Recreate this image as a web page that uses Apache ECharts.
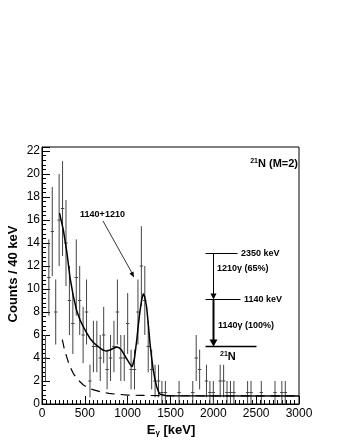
<!DOCTYPE html>
<html>
<head>
<meta charset="utf-8">
<script src="https://cdn.jsdelivr.net/npm/echarts@6/dist/echarts.min.js"></script>
<style>
  html, body { margin: 0; padding: 0; background: #fff; }
  #main { width: 340px; height: 440px; }
</style>
</head>
<body>
<div id="main"></div>
<script>
// histogram bins (40 keV), only the non-empty ones
var binE = [40, 80, 120, 160, 200, 240, 280, 320, 360, 400, 440, 480, 520, 560, 600, 640, 680, 720, 760, 800,
  840, 880, 920, 960, 1000, 1040, 1080, 1120, 1160, 1200, 1240, 1280, 1320, 1360, 1400, 1440, 1600, 1760,
  1800, 1840, 1920, 1960, 2000, 2080, 2120, 2160, 2200, 2240, 2400, 2440, 2560, 2720, 2800, 2840];
var binN = [4, 11, 15, 8, 16, 17, 14, 9, 7, 11, 9, 6, 8, 2, 5, 5, 4, 6, 3, 4,
  5, 8, 4, 4, 7, 3, 3, 8, 12, 9, 5, 3, 2, 2, 1, 1, 1, 1,
  4, 3, 2, 1, 1, 2, 2, 1, 1, 1, 1, 1, 1, 1, 1, 1];

// fit (solid) and background (dashed)
var fitE = [205, 250, 290, 327, 365, 405, 445, 483, 520, 560, 600, 638, 680, 716, 755, 794, 835, 872, 900, 930,
  960, 988, 1020, 1054, 1080, 1105, 1125, 1144, 1165, 1183, 1200, 1222, 1240, 1261, 1280, 1300, 1320, 1339,
  1358, 1377, 1400, 1450, 3000];
var fitV = [16.6, 15.1, 13.2, 11.0, 9.4, 8.1, 7.3, 6.7, 6.2, 5.7, 5.35, 5.1, 4.85, 4.67, 4.6, 4.7, 4.85, 4.96, 4.9, 4.67,
  4.3, 3.95, 3.55, 3.23, 4.0, 5.5, 6.9, 8.1, 9.1, 9.6, 9.3, 8.4, 7.0, 5.25, 4.0, 2.9, 2.1, 1.5,
  1.1, 0.85, 0.75, 0.72, 0.7];
var bgE = [237, 260, 288, 320, 366, 420, 483, 560, 677, 780, 872, 1000, 1140, 1500, 3000];
var bgV = [5.6, 4.8, 4.1, 3.35, 2.65, 2.1, 1.65, 1.33, 1.07, 0.93, 0.85, 0.78, 0.75, 0.72, 0.7];

var bars = binE.map(function (e, i) { return [e, binN[i], Math.sqrt(binN[i])]; });
var fit = fitE.map(function (e, i) { return [e, fitV[i]]; });
var bg = bgE.map(function (e, i) { return [e, bgV[i]]; });

var bold = 'bold 9px "Liberation Sans", Arial, sans-serif';

function errBar(params, api) {
  var e = api.value(0), n = api.value(1), s = api.value(2);
  var c = api.coord([e, n]);
  var lo = api.coord([e, Math.max(n - s, 0)]);
  var hi = api.coord([e, n + s]);
  var l = api.coord([e - 20, n]);
  var r = api.coord([e + 20, n]);
  var st = { stroke: '#444', lineWidth: 1 };
  return {
    type: 'group',
    children: [
      { type: 'line', shape: { x1: c[0], y1: lo[1], x2: c[0], y2: hi[1] }, style: st },
      { type: 'line', shape: { x1: l[0], y1: c[1], x2: r[0], y2: c[1] }, style: st }
    ]
  };
}

var myChart = echarts.init(document.getElementById('main'), null, { renderer: 'canvas' });

var option = {
  animation: false,
  grid: { left: 42, right: 41, top: 147, bottom: 36, show: true, borderColor: '#000', borderWidth: 1 },
  xAxis: {
    type: 'value', min: 0, max: 3000, interval: 500,
    axisLine: { lineStyle: { color: '#000' } },
    axisTick: { inside: true, length: 8, lineStyle: { color: '#000' } },
    minorTick: { show: true, splitNumber: 10, length: 4, lineStyle: { color: '#000' } },
    splitLine: { show: false },
    axisLabel: {
      color: '#000', font: 'bold 10px "Liberation Sans", Arial, sans-serif', margin: 4,
      formatter: function (v) { return String(v); }
    }
  },
  yAxis: {
    type: 'value', min: 0, max: 22.35, interval: 2,
    axisLine: { lineStyle: { color: '#000' } },
    axisTick: { inside: true, length: 8, lineStyle: { color: '#000' } },
    minorTick: { show: true, splitNumber: 5, length: 4, lineStyle: { color: '#000' } },
    splitLine: { show: false },
    axisLabel: { color: '#000', font: 'bold 11px "Liberation Sans", Arial, sans-serif', margin: 2, showMaxLabel: false }
  },
  series: [
    {
      type: 'custom', renderItem: errBar, data: bars, clip: true, silent: true
    },
    {
      type: 'line', data: bg, showSymbol: false, silent: true,
      lineStyle: { color: '#000', width: 1.2, type: [9, 6] }
    },
    {
      type: 'line', data: fit, showSymbol: false, silent: true,
      lineStyle: { color: '#000', width: 1.5 }
    }
  ],
  graphic: [
    // axis titles
    {
      type: 'text', x: 13.5, y: 274, rotation: Math.PI / 2,
      style: { text: 'Counts / 40 keV', font: 'bold 13px "Liberation Sans", Arial, sans-serif', fill: '#000', align: 'center', verticalAlign: 'middle' }
    },
    {
      type: 'text', x: 171, y: 430,
      style: {
        text: '{b|E}{s|γ}{b| [keV]}', align: 'center', verticalAlign: 'middle', fill: '#000',
        rich: {
          b: { font: 'bold 13px "Liberation Sans", Arial, sans-serif', fill: '#000' },
          s: { font: 'bold 8px "Liberation Sans", Arial, sans-serif', fill: '#000', verticalAlign: 'bottom', padding: [6, 0, 0, 0] }
        }
      }
    },
    // label top right
    {
      type: 'text', x: 298, y: 164,
      style: {
        text: '{s|21}{b|N (M=2)}', align: 'right', verticalAlign: 'middle', fill: '#000',
        rich: {
          b: { font: 'bold 11px "Liberation Sans", Arial, sans-serif', fill: '#000' },
          s: { font: 'bold 7px "Liberation Sans", Arial, sans-serif', fill: '#000', padding: [0, 0, 5, 0] }
        }
      }
    },
    // peak annotation
    {
      type: 'text', x: 102.5, y: 215,
      style: { text: '1140+1210', font: bold, fill: '#000', align: 'center', verticalAlign: 'middle' }
    },
    { type: 'line', shape: { x1: 103, y1: 221, x2: 132, y2: 273 }, style: { stroke: '#000', lineWidth: 0.8 } },
    { type: 'polygon', shape: { points: [[134, 277.5], [129.5, 273.5], [133.5, 271.5]] }, style: { fill: '#000' } },
    // level scheme
    { type: 'line', shape: { x1: 205.5, y1: 253.5, x2: 237.5, y2: 253.5 }, style: { stroke: '#000', lineWidth: 1 } },
    { type: 'line', shape: { x1: 205.5, y1: 299.5, x2: 240.5, y2: 299.5 }, style: { stroke: '#000', lineWidth: 1 } },
    { type: 'line', shape: { x1: 205.5, y1: 346.5, x2: 256.5, y2: 346.5 }, style: { stroke: '#000', lineWidth: 1.5 } },
    { type: 'line', shape: { x1: 213.5, y1: 253.5, x2: 213.5, y2: 295 }, style: { stroke: '#000', lineWidth: 1 } },
    { type: 'polygon', shape: { points: [[213.5, 299.5], [210.5, 293.5], [216.5, 293.5]] }, style: { fill: '#000' } },
    { type: 'line', shape: { x1: 213.5, y1: 299.5, x2: 213.5, y2: 341 }, style: { stroke: '#000', lineWidth: 2 } },
    { type: 'polygon', shape: { points: [[213.5, 346.5], [209.5, 339.5], [217.5, 339.5]] }, style: { fill: '#000' } },
    { type: 'text', x: 241, y: 253.5, style: { text: '2350 keV', font: bold, fill: '#000', verticalAlign: 'middle' } },
    { type: 'text', x: 244, y: 300, style: { text: '1140 keV', font: bold, fill: '#000', verticalAlign: 'middle' } },
    { type: 'text', x: 217, y: 268.5, style: { text: '1210γ (65%)', font: bold, fill: '#000', verticalAlign: 'middle' } },
    { type: 'text', x: 218, y: 326, style: { text: '1140γ (100%)', font: bold, fill: '#000', verticalAlign: 'middle' } },
    {
      type: 'text', x: 220, y: 357,
      style: {
        text: '{s|21}{b|N}', verticalAlign: 'middle', fill: '#000',
        rich: {
          b: { font: 'bold 11px "Liberation Sans", Arial, sans-serif', fill: '#000' },
          s: { font: 'bold 7px "Liberation Sans", Arial, sans-serif', fill: '#000', padding: [0, 0, 5, 0] }
        }
      }
    }
  ]
};

myChart.setOption(option);
window.addEventListener('resize', function () {
  myChart.resize();
});
</script>
</body>
</html>
